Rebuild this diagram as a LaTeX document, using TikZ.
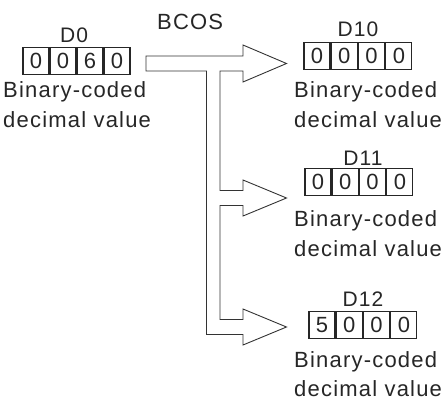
\documentclass[tikz,border=0pt]{standalone}
\usepackage{fontspec}
\setmainfont{Liberation Sans}[LetterSpace=5.5]
\begin{document}
\begin{tikzpicture}[x=1pt,y=-1pt,
  txt/.style={font=\fontsize{22}{26}\selectfont, text=black!85, inner sep=0pt, anchor=base west},
  lbl/.style={font=\fontsize{21}{25}\selectfont, text=black!85, inner sep=0pt, anchor=base},
  cell/.style={draw=black!85, line width=1.1pt, minimum width=26pt, minimum height=27pt, inner sep=0pt,
    font=\fontsize{22}{26}\selectfont, text=black!85},
  bigarrow/.style={draw=black!80, line width=0.9pt, line join=miter}]
\useasboundingbox (0,0) rectangle (446,401);

\node[txt] (bcos) at (157,30) {BCOS};

% D0
\node[lbl] (d0) at (74,43) {D0};
\foreach \i/\v in {0/0,1/0,2/6,3/0}
  \node[cell] (d0c\i) at (36+27*\i,61) {\v};
\node[txt] (d0a) at (3,97) {Binary-coded};
\node[txt] (d0b) at (3,127) {decimal value};

% D10
\node[lbl] (d10) at (358,37) {D10};
\foreach \i/\v in {0/0,1/0,2/0,3/0}
  \node[cell] (d10c\i) at (317+27.3*\i,56) {\v};
\node[txt] (d10a) at (294,97) {Binary-coded};
\node[txt] (d10b) at (294,127) {decimal value};

% D11
\node[lbl] (d11) at (363,165) {D11};
\foreach \i/\v in {0/0,1/0,2/0,3/0}
  \node[cell] (d11c\i) at (318+27.3*\i,182) {\v};
\node[txt] (d11a) at (294,226) {Binary-coded};
\node[txt] (d11b) at (294,256) {decimal value};

% D12
\node[lbl] (d12) at (363,306) {D12};
\foreach \i/\v in {0/5,1/0,2/0,3/0}
  \node[cell] (d12c\i) at (322+27.3*\i,325) {\v};
\node[txt] (d12a) at (294,367) {Binary-coded};
\node[txt] (d12b) at (294,396) {decimal value};

% distribution arrow
\draw[bigarrow] (146,56) -- (243,56) -- (243,45) -- (286.5,63.5) -- (243,82) -- (243,71)
  -- (220,71) -- (220,190.5) -- (243,190.5) -- (243,180) -- (286.5,198) -- (243,216) -- (243,205.5)
  -- (220,205.5) -- (220,319.5) -- (243,319.5) -- (243,309) -- (286.5,327) -- (243,345) -- (243,334.5)
  -- (206.5,334.5) -- (206.5,71) -- (146,71) -- cycle;
\end{tikzpicture}
\end{document}
